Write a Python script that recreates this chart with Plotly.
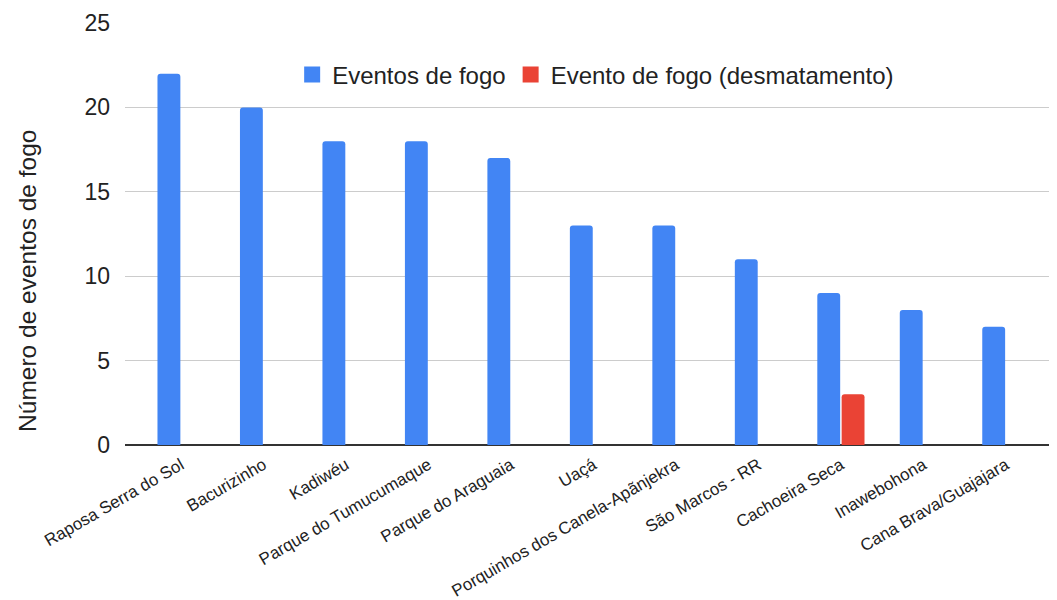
import plotly.graph_objects as go

categories = ["Raposa Serra do Sol", "Bacurizinho", "Kadiwéu", "Parque do Tumucumaque",
              "Parque do Araguaia", "Uaçá", "Porquinhos dos Canela-Apãnjekra",
              "São Marcos - RR", "Cachoeira Seca", "Inawebohona", "Cana Brava/Guajajara"]
eventos_fogo = [22, 20, 18, 18, 17, 13, 13, 11, 9, 8, 7]
eventos_desmatamento = [None, None, None, None, None, None, None, None, 3, None, None]
y_ticks = [0, 5, 10, 15, 20, 25]
series_names = ["Eventos de fogo", "Evento de fogo (desmatamento)"]
series_colors = ["#4285F4", "#EA4335"]

fig = go.Figure()
for name, vals, col in zip(series_names, [eventos_fogo, eventos_desmatamento], series_colors):
    fig.add_trace(go.Bar(x=categories, y=vals, name=name, showlegend=False,
                         marker=dict(color=col, line=dict(width=0))))
# legend entries with larger square swatches
for name, col in zip(series_names, series_colors):
    fig.add_trace(go.Scatter(x=[None], y=[None], mode="markers", name=name,
                             marker=dict(symbol="square", size=21, color=col)))

fig.update_layout(
    width=1049, height=600,
    margin=dict(l=117, r=0, t=15, b=163, autoexpand=False),
    paper_bgcolor="white", plot_bgcolor="white",
    barmode="group", bargap=0.41, bargroupgap=0.06, barcornerradius=3,
    font=dict(family="Liberation Sans, Arial, sans-serif", color="#222"),
    legend=dict(orientation="h", x=0.505, y=0.877, xanchor="center", yanchor="middle",
                font=dict(size=24, color="#222"), bgcolor="rgba(0,0,0,0)",
                itemwidth=30, itemsizing="trace"),
    showlegend=True,
)
fig.update_xaxes(range=[-0.68, 10.62], tickangle=-30, tickfont=dict(size=17, color="#222"),
                 showgrid=False, showline=False, ticks="", zeroline=False, automargin=False,
                 ticklabelstandoff=6)
fig.update_yaxes(range=[0, 25], tickvals=y_ticks, tickfont=dict(size=23, color="#222"),
                 showgrid=True, gridcolor="#cccccc", gridwidth=1, zeroline=True,
                 zerolinecolor="#333333", zerolinewidth=1.5, ticks="", ticklabelstandoff=14,
                 automargin=False)
fig.add_annotation(text="Número de eventos de fogo", textangle=-90, showarrow=False,
                   xref="paper", yref="paper", x=-0.104, y=0.389,
                   xanchor="center", yanchor="middle",
                   font=dict(size=24.5, color="#222"))

fig.write_html("out.html")
